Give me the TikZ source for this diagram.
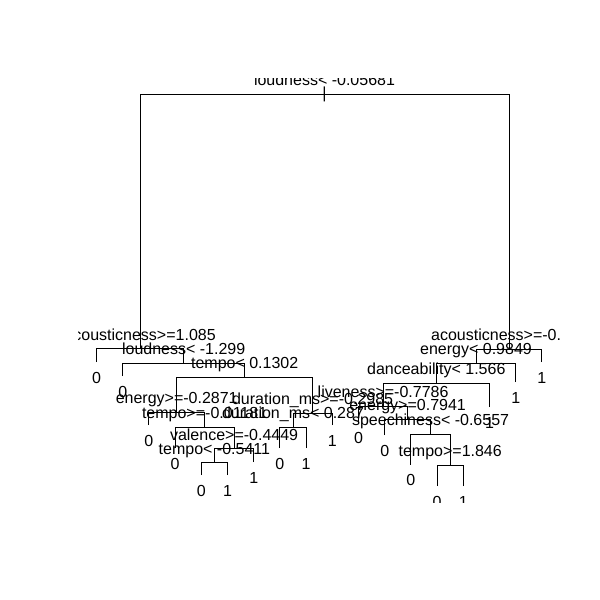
\documentclass[tikz,border=0pt]{standalone}
\usepackage{fontspec}
\setmainfont{Liberation Sans}

\tikzset{
  tree-branch/.style={draw=black, line width=0.85pt},
  tree-split/.style={anchor=base, inner sep=0pt, yshift=8.5pt, font=\fontsize{16}{19}\selectfont},
  tree-leaf/.style={anchor=north, inner sep=0pt, yshift=-10pt, font=\fontsize{16}{19}\selectfont},
}

\begin{document}
\begin{tikzpicture}[x=1pt, y=-1pt]
    \useasboundingbox (0,0) rectangle (600,600);

    \begin{scope}
    \clip (78.7,78.7) rectangle (559.7,502.1);

    % Nodes: splits (left part of the tree)
    \coordinate (n1)   at (324.5, 94);
    \coordinate (n2)   at (140.1, 348.5);
    \coordinate (n5)   at (183.7, 363.3);
    \coordinate (n11)  at (244.7, 377.3);
    \coordinate (n22)  at (176.7, 412);
    \coordinate (n45)  at (204.6, 427);
    \coordinate (n91)  at (234.1, 448.5);
    \coordinate (n182) at (214.4, 462.5);
    \coordinate (n23)  at (312.6, 413);
    \coordinate (n46)  at (293.0, 427);

    % Nodes: splits (right part of the tree)
    \coordinate (n3)   at (509.0, 349);
    \coordinate (n6)   at (476.0, 363);
    \coordinate (n12)  at (436.3, 383);
    \coordinate (n24)  at (383.1, 406);
    \coordinate (n49)  at (407.6, 419);
    \coordinate (n99)  at (430.6, 434);
    \coordinate (n199) at (450.2, 465);

    % Nodes: leaves
    \coordinate (n4)   at (96.5, 362);
    \coordinate (n10)  at (122.7, 376);
    \coordinate (n44)  at (148.9, 425);
    \coordinate (n90)  at (175.1, 448);
    \coordinate (n364) at (201.3, 475);
    \coordinate (n365) at (227.5, 475);
    \coordinate (n183) at (253.7, 462);
    \coordinate (n92)  at (279.9, 448);
    \coordinate (n93)  at (306.1, 448);
    \coordinate (n47)  at (332.3, 425);
    \coordinate (n48)  at (358.5, 422);
    \coordinate (n98)  at (384.7, 435);
    \coordinate (n198) at (410.9, 464.5);
    \coordinate (n398) at (437.1, 486);
    \coordinate (n399) at (463.3, 486);
    \coordinate (n25)  at (489.5, 407);
    \coordinate (n13)  at (515.7, 382);
    \coordinate (n7)   at (541.9, 362);

    % Edges: child up to the parent's bar
    \draw[tree-branch] (n2) |- (n1);
    \draw[tree-branch] (n3) |- (n1);
    \draw[tree-branch] (n4) |- (n2);
    \draw[tree-branch] (n5) |- (n2);
    \draw[tree-branch] (n10) |- (n5);
    \draw[tree-branch] (n11) |- (n5);
    \draw[tree-branch] (n22) |- (n11);
    \draw[tree-branch] (n23) |- (n11);
    \draw[tree-branch] (n44) |- (n22);
    \draw[tree-branch] (n45) |- (n22);
    \draw[tree-branch] (n90) |- (n45);
    \draw[tree-branch] (n91) |- (n45);
    \draw[tree-branch] (n182) |- (n91);
    \draw[tree-branch] (n183) |- (n91);
    \draw[tree-branch] (n364) |- (n182);
    \draw[tree-branch] (n365) |- (n182);
    \draw[tree-branch] (n46) |- (n23);
    \draw[tree-branch] (n47) |- (n23);
    \draw[tree-branch] (n92) |- (n46);
    \draw[tree-branch] (n93) |- (n46);
    \draw[tree-branch] (n6) |- (n3);
    \draw[tree-branch] (n7) |- (n3);
    \draw[tree-branch] (n12) |- (n6);
    \draw[tree-branch] (n13) |- (n6);
    \draw[tree-branch] (n24) |- (n12);
    \draw[tree-branch] (n25) |- (n12);
    \draw[tree-branch] (n48) |- (n24);
    \draw[tree-branch] (n49) |- (n24);
    \draw[tree-branch] (n98) |- (n49);
    \draw[tree-branch] (n99) |- (n49);
    \draw[tree-branch] (n198) |- (n99);
    \draw[tree-branch] (n199) |- (n99);
    \draw[tree-branch] (n398) |- (n199);
    \draw[tree-branch] (n399) |- (n199);

    % Labels: splits
    \node[inner sep=0pt, font=\fontsize{16}{19}\selectfont] (tick) at (n1) {|};
    \node[tree-split] (s1)   at (n1)   {loudness< -0.05681};
    \node[tree-split] (s2)   at (n2)   {acousticness>=1.085};
    \node[tree-split] (s5)   at (n5)   {loudness< -1.299};
    \node[tree-split] (s11)  at (n11)  {tempo< 0.1302};
    \node[tree-split] (s22)  at (n22)  {energy>=-0.2871};
    \node[tree-split] (s45)  at (n45)  {tempo>=-0.01181};
    \node[tree-split] (s91)  at (n91)  {valence>=-0.4449};
    \node[tree-split] (s182) at (n182) {tempo< -0.5411};
    \node[tree-split] (s23)  at (n23)  {duration\_ms>=-0.2985};
    \node[tree-split] (s46)  at (n46)  {duration\_ms< 0.287};
    \node[tree-split, anchor=base west] (s3) at (431, 349) {acousticness>=-0.};
    \node[tree-split] (s6)   at (n6)   {energy< 0.9849};
    \node[tree-split] (s12)  at (n12)  {danceability< 1.566};
    \node[tree-split] (s24)  at (n24)  {liveness>=-0.7786};
    \node[tree-split] (s49)  at (n49)  {energy>=0.7941};
    \node[tree-split] (s99)  at (n99)  {speechiness< -0.6557};
    \node[tree-split] (s199) at (n199) {tempo>=1.846};

    % Labels: leaves
    \node[tree-leaf] (t4)   at (n4)   {0};
    \node[tree-leaf] (t10)  at (n10)  {0};
    \node[tree-leaf] (t44)  at (n44)  {0};
    \node[tree-leaf] (t90)  at (n90)  {0};
    \node[tree-leaf] (t364) at (n364) {0};
    \node[tree-leaf] (t365) at (n365) {1};
    \node[tree-leaf] (t183) at (n183) {1};
    \node[tree-leaf] (t92)  at (n92)  {0};
    \node[tree-leaf] (t93)  at (n93)  {1};
    \node[tree-leaf] (t47)  at (n47)  {1};
    \node[tree-leaf] (t48)  at (n48)  {0};
    \node[tree-leaf] (t98)  at (n98)  {0};
    \node[tree-leaf] (t198) at (n198) {0};
    \node[tree-leaf] (t398) at (n398) {0};
    \node[tree-leaf] (t399) at (n399) {1};
    \node[tree-leaf] (t25)  at (n25)  {1};
    \node[tree-leaf] (t13)  at (n13)  {1};
    \node[tree-leaf] (t7)   at (n7)   {1};
    \end{scope}

\end{tikzpicture}
\end{document}
